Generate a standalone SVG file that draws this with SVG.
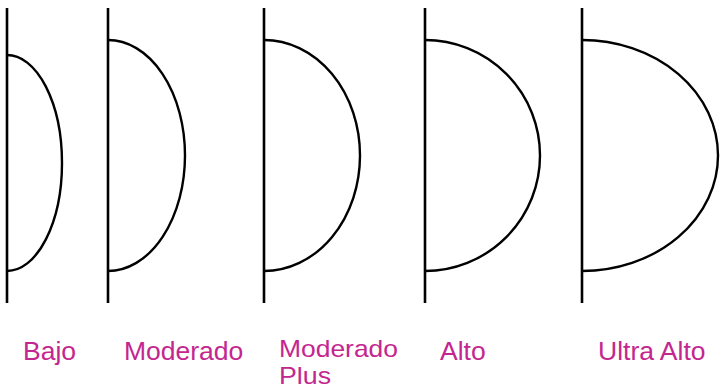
<svg xmlns="http://www.w3.org/2000/svg" width="724" height="390" viewBox="0 0 724 390">
<style>
.ax{stroke:#000;stroke-width:2.6;fill:none}
.cv{stroke:#000;stroke-width:2.4;fill:none}
.lb{font-family:"Liberation Sans",Arial,sans-serif;font-size:26.5px;fill:#C4268F}
.lb2{font-family:"Liberation Sans",Arial,sans-serif;font-size:24px;fill:#C4268F}
</style>
<rect width="724" height="390" fill="#fff"/>
<g id="bajo">
<line class="ax" x1="7" y1="8" x2="7" y2="303"/>
<path class="cv" d="M7,55 A55,108 0 0 1 7,271"/>
<text class="lb" x="23" y="360">Bajo</text>
</g>
<g id="moderado">
<line class="ax" x1="108" y1="8" x2="108" y2="303"/>
<path class="cv" d="M108,40 A77,115.5 0 0 1 108,271"/>
<text class="lb" x="124" y="360">Moderado</text>
</g>
<g id="moderado-plus">
<line class="ax" x1="264" y1="8" x2="264" y2="303"/>
<path class="cv" d="M264,40 A96,115.5 0 0 1 264,271"/>
<text class="lb2" x="279" y="357" textLength="119" lengthAdjust="spacingAndGlyphs">Moderado</text>
<text class="lb2" x="279" y="384" textLength="52" lengthAdjust="spacingAndGlyphs">Plus</text>
</g>
<g id="alto">
<line class="ax" x1="425" y1="8" x2="425" y2="303"/>
<path class="cv" d="M425,40 A115,115.5 0 0 1 425,271"/>
<text class="lb" x="440" y="360">Alto</text>
</g>
<g id="ultra-alto">
<line class="ax" x1="582" y1="8" x2="582" y2="303"/>
<path class="cv" d="M582,40 A136,115.5 0 0 1 582,271"/>
<text class="lb" x="598" y="360">Ultra Alto</text>
</g>
<g id="connectors"></g>
</svg>
